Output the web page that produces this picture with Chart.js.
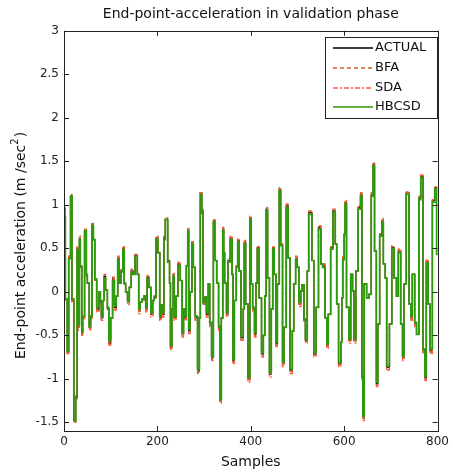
<!DOCTYPE html>
<html>
<head>
<meta charset="utf-8">
<script src="https://cdn.jsdelivr.net/npm/chart.js@4/dist/chart.umd.min.js"></script>
<style>
  body { margin: 0; background: #fff; }
</style>
</head>
<body>
<canvas id="grafica" width="453" height="475"></canvas>
<script>
// sample index where the signal changes level
const samples = [
  0,3,7,10,14,17,21,25,28,30,33,35,
  38,40,44,48,50,54,57,60,63,66,70,75,
  78,80,83,86,89,93,96,100,104,108,112,115,
  118,122,126,129,132,136,140,144,148,152,157,160,
  163,167,171,175,178,182,186,190,193,197,201,205,
  208,211,214,217,222,226,228,231,234,236,240,244,
  249,253,256,259,262,265,267,270,274,277,281,286,
  290,292,295,298,302,305,309,312,316,320,323,327,
  331,334,337,340,342,344,348,351,356,360,362,365,
  369,372,375,379,384,386,389,394,398,401,404,408,
  411,414,418,423,427,430,433,436,440,444,447,450,
  454,457,461,464,468,471,476,480,484,489,492,496,
  499,503,507,510,514,517,521,524,531,535,540,545,
  550,554,559,563,566,571,576,581,584,588,593,595,
  597,600,602,605,610,614,618,621,625,630,635,638,
  640,643,648,653,658,662,665,669,672,676,681,684,
  688,691,697,702,707,712,716,721,725,728,733,739,
  743,746,751,755,760,764,769,773,776,780,784,789,
  794,798,800
];

const actual = [
  -0.75,0.95,-0.1,-0.70,0.4,1.1,-0.1,-1.48,-1.22,0.5,-0.41,0.62,
  0.3,-0.48,-0.3,0.70,0.18,0.1,-0.41,-0.3,0.78,0.6,0.13,-0.2,
  0.0,-0.12,-0.3,-0.1,0.18,0.02,-0.2,-0.59,-0.3,0.15,-0.18,-0.05,
  0.39,0.1,0.25,0.5,0.09,0.0,-0.12,0.05,0.24,0.2,0.42,0.2,
  -0.22,-0.12,-0.1,-0.05,-0.2,0.17,0.05,-0.26,-0.1,-0.07,0.62,0.45,
  -0.3,-0.15,-0.26,0.62,0.83,0.36,0.1,-0.64,-0.2,0.2,-0.3,-0.05,
  0.32,0.13,-0.49,-0.2,-0.3,0.3,0.72,-0.45,0.0,0.57,0.28,-0.3,
  -0.91,-0.3,1.14,0.93,-0.14,-0.06,-0.26,0.09,-0.37,-0.76,0.82,0.36,
  0.1,-0.41,-1.25,-0.3,0.72,0.45,0.1,-0.26,0.36,0.62,0.2,-0.8,
  -0.1,0.3,0.59,0.24,-0.53,-0.2,0.57,-0.14,-1.0,0.85,0.09,-0.2,
  -0.49,0.1,0.51,-0.07,-0.72,-0.5,-0.05,0.95,0.16,-0.95,-0.2,0.51,
  0.2,-0.6,0.09,1.18,0.55,-0.83,-0.41,0.99,0.39,-0.91,-0.45,0.09,
  0.39,0.28,-0.14,0.01,0.08,-0.33,-0.56,0.24,0.91,0.36,-0.72,-0.18,
  0.74,0.32,0.3,-0.3,-0.62,-0.26,0.51,0.93,0.55,-0.14,-0.83,-0.58,
  -0.07,0.39,0.66,1.03,-0.18,-0.56,0.2,0.01,-0.56,0.24,0.97,1.12,
  -0.99,-1.45,0.09,-0.07,-0.03,1.12,1.47,0.47,-1.06,-0.37,0.66,0.82,
  0.32,0.16,-0.87,-0.37,0.51,0.16,-0.05,0.47,-0.37,-0.76,0.09,1.14,
  -0.14,-0.3,0.2,-0.37,-0.49,1.08,1.33,-0.68,-0.99,0.35,-0.14,-0.68,
  1.05,1.2,0.43
];

const bfa = [
  -0.77,0.95,-0.1,-0.72,0.42,1.12,-0.12,-1.5,-1.22,0.52,-0.43,0.64,
  0.3,-0.5,-0.3,0.72,0.18,0.1,-0.43,-0.3,0.8,0.6,0.13,-0.22,
  0.0,-0.12,-0.32,-0.1,0.2,0.02,-0.2,-0.61,-0.3,0.17,-0.2,-0.05,
  0.41,0.1,0.25,0.52,0.09,0.0,-0.14,0.05,0.26,0.2,0.44,0.2,
  -0.24,-0.12,-0.1,-0.05,-0.22,0.19,0.05,-0.28,-0.1,-0.07,0.64,0.45,
  -0.32,-0.15,-0.28,0.64,0.85,0.36,0.1,-0.66,-0.2,0.22,-0.32,-0.05,
  0.34,0.13,-0.51,-0.2,-0.32,0.3,0.74,-0.47,0.0,0.59,0.28,-0.32,
  -0.93,-0.3,1.15,0.95,-0.14,-0.06,-0.28,0.09,-0.39,-0.78,0.84,0.36,
  0.1,-0.43,-1.27,-0.3,0.74,0.45,0.1,-0.28,0.38,0.64,0.2,-0.82,
  -0.1,0.3,0.61,0.24,-0.55,-0.2,0.59,-0.14,-1.03,0.87,0.09,-0.22,
  -0.51,0.1,0.53,-0.07,-0.74,-0.5,-0.05,0.97,0.16,-0.97,-0.2,0.53,
  0.2,-0.62,0.09,1.2,0.55,-0.85,-0.41,1.01,0.39,-0.93,-0.45,0.09,
  0.41,0.28,-0.16,0.01,0.08,-0.35,-0.58,0.24,0.93,0.36,-0.74,-0.18,
  0.76,0.32,0.32,-0.3,-0.64,-0.26,0.53,0.95,0.55,-0.14,-0.85,-0.58,
  -0.07,0.41,0.66,1.05,-0.18,-0.58,0.2,0.01,-0.58,0.24,0.99,1.14,
  -1.01,-1.47,0.09,-0.07,-0.03,1.14,1.48,0.47,-1.08,-0.37,0.68,0.84,
  0.32,0.16,-0.89,-0.37,0.53,0.16,-0.05,0.49,-0.37,-0.78,0.09,1.15,
  -0.14,-0.32,0.2,-0.39,-0.49,1.1,1.34,-0.7,-1.01,0.37,-0.14,-0.7,
  1.07,1.21,0.43
];

const sda = [
  -0.76,0.97,-0.1,-0.71,0.41,1.11,-0.11,-1.5,-1.23,0.51,-0.44,0.63,
  0.3,-0.51,-0.31,0.71,0.18,0.1,-0.44,-0.3,0.79,0.6,0.13,-0.23,
  0.0,-0.12,-0.33,-0.1,0.19,0.02,-0.2,-0.62,-0.3,0.16,-0.21,-0.05,
  0.4,0.1,0.25,0.51,0.09,0.0,-0.15,0.05,0.25,0.2,0.43,0.2,
  -0.25,-0.12,-0.1,-0.05,-0.23,0.18,0.05,-0.29,-0.1,-0.07,0.63,0.45,
  -0.33,-0.15,-0.29,0.63,0.84,0.36,0.1,-0.67,-0.2,0.21,-0.33,-0.05,
  0.33,0.13,-0.52,-0.2,-0.33,0.3,0.73,-0.48,0.0,0.58,0.28,-0.33,
  -0.94,-0.3,1.14,0.94,-0.14,-0.06,-0.29,0.09,-0.4,-0.79,0.83,0.36,
  0.1,-0.44,-1.28,-0.3,0.73,0.45,0.1,-0.29,0.37,0.63,0.2,-0.83,
  -0.1,0.3,0.6,0.24,-0.56,-0.2,0.58,-0.14,-1.04,0.86,0.09,-0.23,
  -0.52,0.1,0.52,-0.07,-0.75,-0.5,-0.05,0.96,0.16,-0.98,-0.2,0.52,
  0.2,-0.63,0.09,1.19,0.55,-0.86,-0.41,1.0,0.39,-0.94,-0.45,0.09,
  0.4,0.28,-0.17,0.01,0.08,-0.36,-0.59,0.24,0.92,0.36,-0.75,-0.18,
  0.75,0.32,0.31,-0.3,-0.65,-0.26,0.52,0.94,0.55,-0.14,-0.86,-0.58,
  -0.07,0.4,0.66,1.04,-0.18,-0.59,0.2,0.01,-0.59,0.24,0.98,1.13,
  -1.02,-1.48,0.09,-0.07,-0.03,1.13,1.48,0.47,-1.09,-0.37,0.67,0.83,
  0.32,0.16,-0.9,-0.37,0.52,0.16,-0.05,0.48,-0.37,-0.79,0.09,1.14,
  -0.14,-0.33,0.2,-0.4,-0.49,1.09,1.34,-0.71,-1.02,0.36,-0.14,-0.71,
  1.06,1.2,0.43
];

const hbcsd = [
  -0.75,0.85,-0.08,-0.68,0.38,1.1,-0.08,-1.48,-1.2,0.48,-0.38,0.6,
  0.28,-0.46,-0.28,0.7,0.2,0.1,-0.4,-0.28,0.76,0.6,0.15,-0.18,
  0.0,-0.1,-0.28,-0.1,0.16,0.02,-0.18,-0.56,-0.3,0.13,-0.16,-0.05,
  0.37,0.1,0.23,0.48,0.1,0.0,-0.1,0.05,0.22,0.2,0.4,0.2,
  -0.2,-0.12,-0.08,-0.05,-0.18,0.15,0.05,-0.24,-0.1,-0.05,0.6,0.45,
  -0.28,-0.15,-0.24,0.6,0.83,0.34,0.1,-0.62,-0.2,0.18,-0.28,-0.05,
  0.3,0.13,-0.47,-0.2,-0.28,0.3,0.7,-0.43,0.0,0.55,0.28,-0.28,
  -0.89,-0.3,1.12,0.9,-0.12,-0.06,-0.24,0.09,-0.35,-0.74,0.8,0.36,
  0.1,-0.39,-1.23,-0.3,0.7,0.45,0.1,-0.24,0.34,0.6,0.2,-0.78,
  -0.1,0.28,0.57,0.24,-0.51,-0.2,0.55,-0.14,-0.98,0.83,0.09,-0.18,
  -0.47,0.1,0.49,-0.07,-0.7,-0.5,-0.05,0.93,0.16,-0.93,-0.2,0.49,
  0.2,-0.58,0.09,1.16,0.53,-0.81,-0.41,0.97,0.39,-0.89,-0.45,0.09,
  0.37,0.28,-0.12,0.01,0.08,-0.31,-0.54,0.24,0.89,0.36,-0.7,-0.18,
  0.72,0.32,0.28,-0.3,-0.6,-0.26,0.49,0.91,0.55,-0.14,-0.81,-0.58,
  -0.07,0.37,0.66,1.01,-0.18,-0.54,0.2,0.01,-0.54,0.24,0.95,1.1,
  -0.97,-1.43,0.09,-0.07,-0.03,1.1,1.45,0.47,-1.04,-0.37,0.64,0.8,
  0.32,0.16,-0.85,-0.37,0.49,0.16,-0.05,0.45,-0.37,-0.74,0.09,1.12,
  -0.14,-0.28,0.2,-0.35,-0.49,1.06,1.31,-0.66,-0.97,0.33,-0.14,-0.66,
  1.03,1.18,0.43
];

const xTicks = [0, 200, 400, 600, 800];
const yTicks = [-1.5, -1, -0.5, 0, 0.5, 1, 1.5, 2, 2.5, 3];

const FUENTE = "'DejaVu Sans', Verdana, sans-serif";

function puntos(valores) {
    return samples.map((s, i) => ({ x: s, y: valores[i] }));
}

// legend entries in the order they appear in the box
const leyenda = [
    { texto: "ACTUAL", color: "#000000", dash: [] },
    { texto: "BFA",    color: "#c8602c", dash: [4, 3] },
    { texto: "SDA",    color: "#ff5a3a", dash: [5, 2, 2, 2] },
    { texto: "HBCSD",  color: "#2c9a0c", dash: [] }
];

// box, inward ticks, y label and legend drawn like the matlab figure
const marcoPlugin = {
    id: "marco",
    afterDraw(chart) {
        const ctx = chart.ctx;
        const a = chart.chartArea;
        const sx = chart.scales.x;
        const sy = chart.scales.y;
        ctx.save();
        ctx.strokeStyle = "#222";
        ctx.lineWidth = 1;
        ctx.setLineDash([]);
        ctx.strokeRect(Math.round(a.left) + 0.5, Math.round(a.top) + 0.5,
                       Math.round(a.right - a.left), Math.round(a.bottom - a.top));
        ctx.beginPath();
        xTicks.forEach(v => {
            const px = Math.round(sx.getPixelForValue(v)) + 0.5;
            ctx.moveTo(px, a.bottom); ctx.lineTo(px, a.bottom - 5);
            ctx.moveTo(px, a.top);    ctx.lineTo(px, a.top + 5);
        });
        yTicks.forEach(v => {
            const py = Math.round(sy.getPixelForValue(v)) + 0.5;
            ctx.moveTo(a.left, py);  ctx.lineTo(a.left + 5, py);
            ctx.moveTo(a.right, py); ctx.lineTo(a.right - 5, py);
        });
        ctx.stroke();

        // y axis label with a real superscript
        const t1 = "End-point acceleration (m /sec", t2 = "2", t3 = ")";
        ctx.save();
        ctx.translate(21, 246);
        ctx.rotate(-Math.PI / 2);
        ctx.fillStyle = "#111";
        ctx.textBaseline = "middle";
        ctx.textAlign = "left";
        ctx.font = "14px " + FUENTE;
        const w1 = ctx.measureText(t1).width;
        const w3 = ctx.measureText(t3).width;
        ctx.font = "10px " + FUENTE;
        const w2 = ctx.measureText(t2).width;
        let x0 = -(w1 + w2 + w3) / 2;
        ctx.font = "14px " + FUENTE;
        ctx.fillText(t1, x0, 0);
        ctx.font = "10px " + FUENTE;
        ctx.fillText(t2, x0 + w1, -6);
        ctx.font = "14px " + FUENTE;
        ctx.fillText(t3, x0 + w1 + w2 + 1, 0);
        ctx.restore();

        // legend
        const bx = 325.5, by = 37.5, bw = 112, bh = 81;
        ctx.fillStyle = "#fff";
        ctx.fillRect(bx, by, bw, bh);
        ctx.strokeStyle = "#222";
        ctx.lineWidth = 1;
        ctx.strokeRect(bx, by, bw, bh);
        ctx.font = "13px " + FUENTE;
        ctx.textBaseline = "middle";
        ctx.textAlign = "left";
        [48, 68, 88, 107].forEach((y, i) => {
            const item = leyenda[i];
            ctx.beginPath();
            ctx.lineWidth = 1.4;
            ctx.strokeStyle = item.color;
            ctx.setLineDash(item.dash);
            ctx.moveTo(333, y);
            ctx.lineTo(373, y);
            ctx.stroke();
            ctx.setLineDash([]);
            ctx.fillStyle = "#111";
            ctx.fillText(item.texto, 375, y);
        });
        ctx.restore();
    }
};

const ctx = document.getElementById("grafica").getContext("2d");

new Chart(ctx, {
    type: "line",
    data: {
        // first dataset is painted last, so HBCSD sits on top
        datasets: [
            { label: "HBCSD",  data: puntos(hbcsd),  borderColor: "#2c9a0c", borderWidth: 1.7, stepped: "after" },
            { label: "SDA",    data: puntos(sda),    borderColor: "#ff5a3a", borderWidth: 1.2, borderDash: [5, 2, 2, 2], stepped: "after" },
            { label: "BFA",    data: puntos(bfa),    borderColor: "#c8602c", borderWidth: 1.2, borderDash: [4, 3], stepped: "after" },
            { label: "ACTUAL", data: puntos(actual), borderColor: "#000000", borderWidth: 1.2, stepped: "after" }
        ]
    },
    options: {
        responsive: false,
        animation: false,
        elements: { point: { radius: 0 } },
        layout: { padding: { left: 0, right: 10, top: 0, bottom: 0 } },
        plugins: {
            legend: { display: false },
            tooltip: { enabled: false },
            title: {
                display: true,
                fullSize: false,
                text: "End-point-acceleration in validation phase",
                color: "#111",
                font: { family: FUENTE, size: 14, weight: "normal" },
                padding: { top: 6, bottom: 8 }
            }
        },
        scales: {
            x: {
                type: "linear",
                min: 0,
                max: 800,
                afterBuildTicks: s => { s.ticks = xTicks.map(v => ({ value: v })); },
                afterFit: s => { s.height = 44; },
                ticks: { color: "#222", padding: 4, font: { family: FUENTE, size: 12 }, callback: v => String(v) },
                grid: { display: false, drawTicks: false },
                border: { display: false },
                title: {
                    display: true,
                    text: "Samples",
                    color: "#111",
                    font: { family: FUENTE, size: 14 },
                    padding: { top: 0, bottom: 4 }
                }
            },
            y: {
                min: -1.6,
                max: 3,
                afterBuildTicks: s => { s.ticks = yTicks.map(v => ({ value: v })); },
                afterFit: s => { s.width = 64; },
                ticks: { color: "#222", padding: 5, font: { family: FUENTE, size: 12 }, callback: v => String(v) },
                grid: { display: false, drawTicks: false },
                border: { display: false }
            }
        }
    },
    plugins: [marcoPlugin]
});
</script>
</body>
</html>
